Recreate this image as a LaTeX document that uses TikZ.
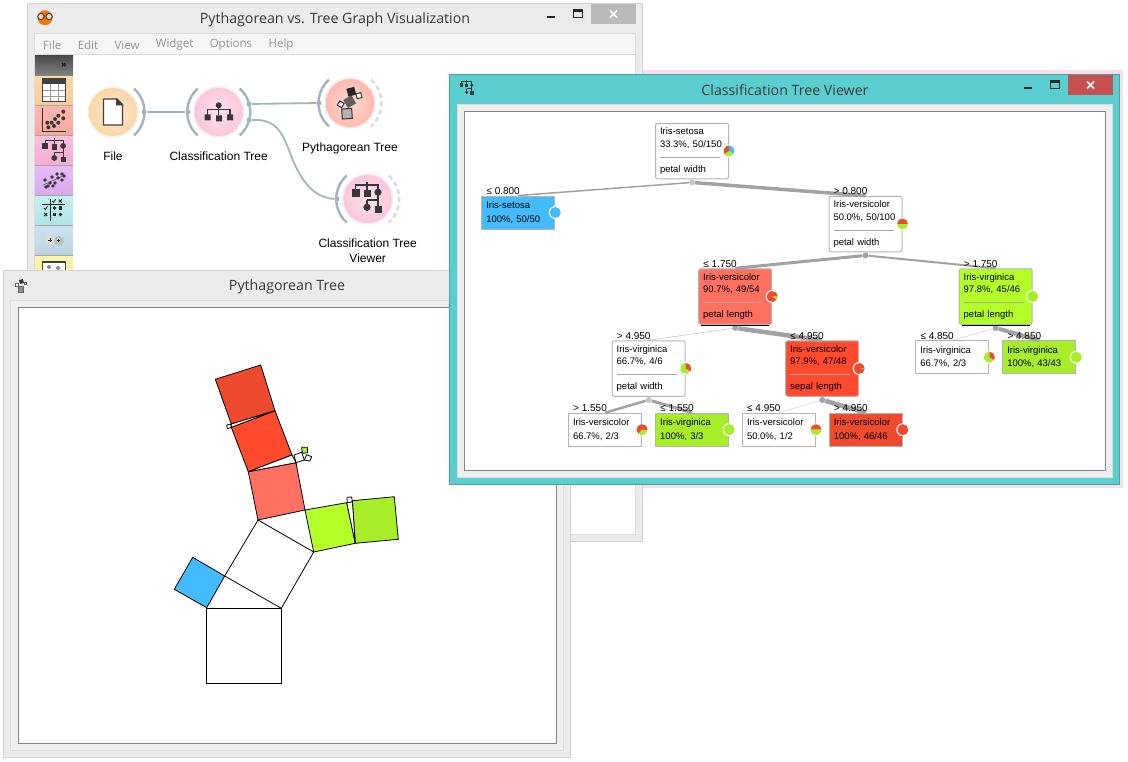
\documentclass[tikz,border=0pt]{standalone}
\usepackage{fontspec}
\setmainfont{Liberation Sans}
\newfontfamily\titlefont{Open Sans}
\usepackage{tikz}
\usetikzlibrary{positioning}

\definecolor{wingrey}{HTML}{EBEBEB}
\definecolor{winedge}{HTML}{D2D2D2}
\definecolor{panelgrey}{HTML}{EFEFEF}
\definecolor{paneledge}{HTML}{DCDCDC}
\definecolor{canvasedge}{HTML}{83838F}
\definecolor{teal}{HTML}{5BCFCF}
\definecolor{tealedge}{HTML}{45A6A6}
\definecolor{shadowpink}{HTML}{FBDDE8}
\definecolor{closered}{HTML}{C75050}
\definecolor{wire}{HTML}{A3B4BF}
\definecolor{wirefree}{HTML}{D5DCE0}
\definecolor{boxgrey}{HTML}{B4B4B4}
\definecolor{edgegrey}{HTML}{A2A2A6}
\definecolor{splitline}{HTML}{A8A8A8}
\definecolor{setosa}{HTML}{45BBFF}
\definecolor{virgin}{HTML}{A8EE28}
\definecolor{virginb}{HTML}{B4FF28}
\definecolor{versic}{HTML}{EE4A2E}
\definecolor{versicb}{HTML}{FF4A2E}
\definecolor{versicc}{HTML}{FF7060}
\definecolor{orangein}{HTML}{FEEBD3}
\definecolor{orangeout}{HTML}{FBD5A6}
\definecolor{orangehalo}{HTML}{FDEEDC}
\definecolor{pinkin}{HTML}{FDE3EC}
\definecolor{pinkout}{HTML}{F9C6DA}
\definecolor{pinkhalo}{HTML}{FCE8F0}
\definecolor{salmonin}{HTML}{FFDCD6}
\definecolor{salmonout}{HTML}{FDB9AE}
\definecolor{salmonhalo}{HTML}{FEE8E4}

\tikzset{
  winbox/.style={fill=wingrey,draw=winedge,line width=1pt},
  panelbox/.style={fill=panelgrey,draw=paneledge,line width=1pt},
  canvasbox/.style={fill=white,draw=canvasedge,line width=1pt},
  wintitle/.style={text=black!78,inner sep=0pt,font=\titlefont\fontsize{14.2}{16}\selectfont},
  menuitem/.style={text=black!42,inner sep=0pt,font=\titlefont\fontsize{11.5}{13}\selectfont},
  widget/.style={circle,minimum size=48pt,inner sep=0pt},
  widgetlabel/.style={inner sep=0pt,align=center,font=\fontsize{12}{15}\selectfont},
  port/.style={draw=wire,line width=2.4pt},
  freeport/.style={draw=wirefree,line width=2.4pt,dash pattern=on 5pt off 3.2pt},
  link/.style={draw=wire,line width=1.8pt},
  portdot/.style={circle,fill=wire,minimum size=5pt,inner sep=0pt},
  treebox/.style={draw=boxgrey,line width=1pt,rounded corners=2pt,minimum width=73pt,
    minimum height=55.5pt,text width=64pt,inner xsep=4.5pt,inner ysep=0pt,align=left,
    font=\fontsize{9.5}{12.6}\selectfont},
  leafbox/.style={treebox,rounded corners=0pt,minimum height=33pt},
  splitdot/.style={circle,fill=edgegrey,minimum size=6pt,inner sep=0pt},
  ring/.style={circle,fill=white,minimum size=13pt,inner sep=0pt},
  thr/.style={inner sep=0pt,font=\fontsize{10}{12}\selectfont},
  branch/.style={draw=edgegrey},
  sq/.style={draw=black,line width=0.8pt,line join=round},
  icon/.style={fill=black!78},
}

% one wedge of the class pie inside a ring node
\newcommand{\piepart}[4]{\fill[#4] (#1.center) -- ++(#2:5.5) arc[start angle=#2,end angle=#3,radius=5.5] -- cycle;}
\newcommand{\boxsplit}[3]{#1\\#2\\\textcolor{splitline}{\rule[2pt]{60pt}{0.8pt}}\\#3}
\newcommand{\boxleaf}[2]{#1\\[1pt]#2}
\newcommand{\winbuttons}[3]{
  \begin{scope}[shift={(#1,#2)}]
    \fill[black!85] (-44,11.7) rectangle (-36,13.7);
    \draw[black!85,line width=1pt] (-17.5,5.8) rectangle (-8.5,13);
    \fill[black!85] (-18,5.5) rectangle (-8,7.5);
    \fill[#3] (0,0) rectangle (45,20);
    \draw[white,line width=1.5pt] (19,6.5) -- (26,13.5) (26,6.5) -- (19,13.5);
  \end{scope}
}
% tree glyph, origin at the middle square; toolbox, canvas and title bar
\newcommand{\treeglyph}[3]{
  \begin{scope}[shift={(#1,#2)},scale=#3]
    \draw[draw=black!78,line width=1.1pt] (-11.3,-1) -- (-11.3,-8) -- (11,-8) -- (11,-1)
      (0,-11) -- (0,0) (0,7) -- (11,7) (11,-1) -- (11,14) (0,7) -- (0,18);
    \fill[icon] (-15.3,-4.3) rectangle ++(8,8);
    \fill[icon] (-3.5,-2.8) rectangle ++(7,7);
    \fill[icon] (11,-0.7) circle[radius=3.6];
    \fill[icon] (0,14.3) circle[radius=3.6];
    \fill[icon] (7.8,12.5) rectangle ++(7,7);
  \end{scope}
}

\begin{document}
\begin{tikzpicture}[x=1pt,y=-1pt]
  \useasboundingbox (0,0) rectangle (1128,761);
  \fill[white] (0,0) rectangle (1128,761);
  \fill[shadowpink] (642,70) rectangle (1123,488);

  % workflow window
  \draw[winbox] (27.5,3.5) rectangle (642.5,541.5);
  \fill[white] (34.5,34) rectangle (635.5,534);
  \draw[draw=paneledge] (34.5,534) -- (34.5,33.5) -- (635.5,33.5) -- (635.5,534) -- cycle;
  \fill[black!4] (35,34) rectangle (635,54);
  \draw[paneledge] (35,54.5) -- (635,54.5);
  \node[wintitle] (maintitle) at (335,20) {Pythagorean vs. Tree Graph Visualization};
  \winbuttons{591}{4}{black!27}
  \fill[orange!90!red] (45,17.7) circle[radius=7.5];
  \draw[black!75,line width=1pt,fill=white!70!orange] (40.9,16.5) circle[radius=3.2] (49.1,16.5) circle[radius=3.2];
  \node[menuitem,anchor=west] (mfile) at (43,45) {File};
  \node[menuitem,right=16pt of mfile] (medit) {Edit};
  \node[menuitem,right=16pt of medit] (mview) {View};
  \node[menuitem,right=16pt of mview] (mwidget) {Widget};
  \node[menuitem,right=16pt of mwidget] (moptions) {Options};
  \node[menuitem,right=16pt of moptions] (mhelp) {Help};

  % toolbox
  \fill[top color=black!72,bottom color=black!48] (35,55) rectangle (73,76);
  \node[inner sep=0pt,font=\bfseries\fontsize{9}{9}\selectfont] (mfold) at (64,65) {»};
  \foreach \ya/\yb/\ca/\cb in {76/105/FDD9A8/F9CB94,106/135/FFB6AE/F9A89F,136/165/FBC0DC/F5ACD0,
      166/195/E6BAF8/D9A8EE,196/225/C0F2F0/B0E6E6,226/255/CCE0EE/BCD4E4,256/275/FBF6AC/F6EE98}{
    \definecolor{ctop}{HTML}{\ca}\definecolor{cbot}{HTML}{\cb}
    \fill[top color=ctop,bottom color=cbot] (35,\ya) rectangle (73,\yb);
    \draw[black!35] (35,\yb+.5) -- (73,\yb+.5);
  }
  % table
  \draw[black!75,fill=white,line width=1.2pt] (42.5,78.5) rectangle (65.5,101.5);
  \fill[black!75] (42.5,78.5) rectangle (65.5,84);
  \foreach \x in {50,58} \draw[black!40] (\x,84) -- (\x,101);
  \foreach \y in {90,96} \draw[black!40] (43,\y) -- (65,\y);
  % scatter
  \draw[black!80,line width=1pt] (42.7,108.3) -- (42.7,131) -- (65.7,131);
  \foreach \x/\y in {63.3/111.7,58.3/115.7,63.3/118.3,55/119,51.7/122.7,58.3/122.7,48.3/127.3,54/126,47.3/122.7}
    \fill[black!78] (\x,\y) circle[radius=2];
  \treeglyph{54.3}{146.5}{0.8}
  % projection
  \draw[black!80] (43.3,185) -- (65,175);
  \foreach \x/\y in {45/180,48/186,52/177,55/183,58/178,62/174,62/180,50/183,64/176,46/187,53/186,57/174}
    \fill[black!78] (\x,\y) circle[radius=1.8];
  % confusion table
  \draw[black!85,line width=1pt] (50,199) -- (50,220.7) (42,204) -- (65,204);
  \foreach \x/\y in {60.3/201,45.7/214.5}
    \draw[black!85,line width=.8pt] (\x-1.5,\y-1.5) -- (\x+1.5,\y+1.5) (\x-1.5,\y+1.5) -- (\x+1.5,\y-1.5);
  \foreach \x/\y in {54/201,45.7/208}
    \draw[black!85,line width=.8pt] (\x-1.7,\y) -- (\x-.4,\y+1.5) -- (\x+1.8,\y-1.8);
  \foreach \x/\y in {54.5/208,60.5/214.5} \fill[black!85] (\x,\y) circle[radius=1.8];
  \foreach \x/\y in {60.5/208,54.5/214.5} \fill[black!85] (\x-1.6,\y-1.6) rectangle ++(3.2,3.2);
  % clustering, image
  \fill[black!14] (50,240) circle[radius=5.5];
  \fill[black!25] (59,241) circle[radius=5];
  \foreach \x/\y in {50/240,58.5/240.7}
    \draw[black!85,line width=.7pt] (\x-1.6,\y) -- (\x+1.6,\y) (\x,\y-1.6) -- (\x,\y+1.6);
  \draw[black!75,fill=white,line width=1.2pt] (42.5,262) rectangle (65.5,285);
  \fill[black!45] (49,267) circle[radius=2] (58,268) circle[radius=2];

  % canvas widgets
  \fill[orangehalo] (113,112) circle[radius=25.5];
  \node[widget,inner color=orangein,outer color=orangeout] (file) at (113,112) {};
  \fill[pinkhalo] (218.7,112) circle[radius=25.5];
  \node[widget,inner color=pinkin,outer color=pinkout] (ctree) at (218.7,112) {};
  \fill[salmonhalo] (350,103) circle[radius=25.5];
  \node[widget,inner color=salmonin,outer color=salmonout] (pyth) at (350,103) {};
  \fill[pinkhalo] (367.7,199) circle[radius=25.5];
  \node[widget,inner color=pinkin,outer color=pinkout] (viewer) at (367.7,199) {};
  \draw[port] ([shift={(-48:31.5)}]file.center) arc[start angle=-48,end angle=48,radius=31.5];
  \draw[port] ([shift={(132:31.5)}]ctree.center) arc[start angle=132,end angle=228,radius=31.5];
  \draw[port] ([shift={(-48:31.5)}]ctree.center) arc[start angle=-48,end angle=48,radius=31.5];
  \draw[port] ([shift={(132:31.5)}]pyth.center) arc[start angle=132,end angle=228,radius=31.5];
  \draw[freeport] ([shift={(-48:31.5)}]pyth.center) arc[start angle=-48,end angle=48,radius=31.5];
  \draw[port] ([shift={(132:31.5)}]viewer.center) arc[start angle=132,end angle=228,radius=31.5];
  \draw[freeport] ([shift={(-48:31.5)}]viewer.center) arc[start angle=-48,end angle=48,radius=31.5];
  \node[portdot] (fileout) at (144,112) {};
  \node[portdot] (ctreein) at (188,112) {};
  \node[portdot] (ctreeouta) at (249,104) {};
  \node[portdot] (ctreeoutb) at (249,120) {};
  \node[portdot] (pythin) at (319,103) {};
  \node[portdot] (viewerin) at (337,199) {};
  \draw[link] (fileout) -- (ctreein);
  \draw[link] (ctreeouta) -- (pythin);
  \draw[link] (ctreeoutb.east) .. controls (283,118) and (284,142) .. (296,167) .. controls (307,190) and (320,198) .. (viewerin.west);
  \node[widgetlabel,below=15pt of file] (filelab) {File};
  \node[widgetlabel,below=15pt of ctree] (ctreelab) {Classification Tree};
  \node[widgetlabel,below=15pt of pyth] (pythlab) {Pythagorean Tree};
  \node[widgetlabel,below=15pt of viewer] (viewerlab) {Classification Tree\\Viewer};
  % glyphs
  \begin{scope}[shift={(113,112)}]
    \draw[black!75,fill=white,line width=1.3pt,line join=round] (-9.5,-13) -- (4,-13) -- (9.5,-7.5) -- (9.5,13) -- (-9.5,13) -- cycle;
    \draw[black!75,fill=black!75,line width=.8pt] (3.5,-13) -- (3.5,-7) -- (9.5,-7) -- cycle;
  \end{scope}
  \draw[black!78,line width=1.1pt] (218.7,105) -- (218.7,115) (207.7,115) -- (207.7,109.5) -- (230,109.5) -- (230,115);
  \fill[black!78] (218.7,105.3) circle[radius=3] (204.7,114.3) rectangle ++(6,6) (216,115.3) rectangle ++(6,6) (227,114.3) rectangle ++(6,6);
  \treeglyph{367}{193}{1}
  \begin{scope}[black!80,line width=1pt]
    \draw[fill=black!30,rotate around={4:(347,113.7)}] (342,108.7) rectangle ++(10,10);
    \fill[black!62,rotate around={30:(349.7,101.7)}] (345,97) rectangle ++(9.4,9.4);
    \fill[black!85,rotate around={15:(351.3,91.7)}] (347.3,87.7) rectangle ++(8,8);
    \draw[fill=white,rotate around={-30:(340.7,104.3)}] (338.2,101.8) rectangle ++(5,5);
    \draw[fill=white,rotate around={15:(359,95.7)}] (356.5,93.2) rectangle ++(5,5);
  \end{scope}

  % pythagorean tree window
  \draw[winbox] (3.5,270.5) rectangle (570.5,757.5);
  \draw[panelbox] (10.5,300.5) rectangle (563.5,750.5);
  \draw[canvasbox] (18.5,307.5) rectangle (556.5,743.5);
  \node[wintitle] (pythtitle) at (287,287) {Pythagorean Tree};
  \fill[black!45,draw=black!60] (17.8,286) rectangle ++(5,6);
  \fill[black!80,rotate around={15:(21.5,281.5)}] (19.5,279.5) rectangle ++(4,4);
  \draw[black!60,fill=white] (15.5,283.5) rectangle ++(3,2.5) (24,282) rectangle ++(2.5,2.5);

  \draw[sq,fill=white] (206.7,608.3) rectangle (281.3,683.3);
  \draw[sq,fill=setosa] (206.7,607.7) -- (224.7,576) -- (192.7,557.3) -- (174.3,589.3) -- cycle;
  \draw[sq,fill=white] (224.7,576) -- (258,520) -- (313.7,552) -- (281.3,608.3) -- cycle;
  \draw[sq,fill=versicc] (258,520) -- (305,510) -- (296,462.7) -- (248.3,471.7) -- cycle;
  \draw[sq,fill=virginb] (305,510) -- (313.7,552) -- (355.3,543.3) -- (346.7,502.7) -- cycle;
  \draw[sq,fill=virgin] (355.3,543.3) -- (398.3,539.3) -- (394.3,496.7) -- (352.3,500.7) -- cycle;
  \draw[sq,fill=white] (346.7,502.7) -- (352.3,500.7) -- (355.3,543.3) -- cycle;
  \draw[sq,fill=white] (347,497.3) -- (351.7,497) -- (352.2,502) -- (347.3,502.7) -- cycle;
  \draw[sq,fill=versicb] (248.3,471.7) -- (292,455) -- (275,410.7) -- (231.3,427.3) -- cycle;
  \draw[sq,fill=white] (248.3,471.7) -- (296,462.7) -- (292,455) -- cycle;
  \draw[sq,fill=white] (294,455) -- (301.7,452.3) -- (304.3,460) -- (296,462.7) -- cycle;
  \draw[sq,fill=white] (304.3,460) -- (310,461) -- (311.7,456.7) -- (306.7,454.7) -- cycle;
  \draw[sq,fill=virgin] (301.7,447.3) -- (307.3,447.3) -- (307.7,452.7) -- (302.3,453.3) -- cycle;
  \draw[sq,fill=versic] (231.3,424) -- (275,410.7) -- (260.7,365) -- (215.3,379.3) -- cycle;
  \draw[sq,fill=white] (231.3,424) -- (275,410.7) -- (231.3,427.3) -- cycle;
  \draw[sq,fill=white] (226.7,425) -- (230.5,424) -- (231.3,427.3) -- (227.3,428.7) -- cycle;

  % tree viewer window
  \draw[fill=teal,draw=tealedge,line width=1pt] (449.5,74.5) rectangle (1119,484.5);
  \draw[panelbox] (457,104.5) rectangle (1112.5,477.5);
  \draw[canvasbox] (464.5,111.5) rectangle (1105,470.5);
  \node[wintitle] (viewertitle) at (785,90.5) {Classification Tree Viewer};
  \winbuttons{1068}{75}{closered}
  \treeglyph{466.7}{85.5}{0.47}

  \node[treebox] (root) at (692,151) {\boxsplit{Iris-setosa}{33.3\%, 50/150}{petal width}};
  \node[leafbox,fill=setosa] (setosaleaf) at (518.3,212.5) {\boxleaf{Iris-setosa}{100\%, 50/50}};
  \node[treebox] (verstop) at (865.5,224) {\boxsplit{Iris-versicolor}{50.0\%, 50/100}{petal width}};
  \node[treebox,fill=versicc] (versmid) at (735.2,296.5) {\boxsplit{Iris-versicolor}{90.7\%, 49/54}{petal length}};
  \node[treebox,fill=virginb] (virgmid) at (995.7,296.5) {\boxsplit{Iris-virginica}{97.8\%, 45/46}{petal length}};
  \node[treebox] (virglow) at (648.7,368.5) {\boxsplit{Iris-virginica}{66.7\%, 4/6}{petal width}};
  \node[treebox,fill=versicb] (verslow) at (822.2,368.5) {\boxsplit{Iris-versicolor}{97.9\%, 47/48}{sepal length}};
  \node[leafbox] (virgleafa) at (952.3,357.2) {\boxleaf{Iris-virginica}{66.7\%, 2/3}};
  \node[leafbox,fill=virgin] (virgleafb) at (1039.3,357.2) {\boxleaf{Iris-virginica}{100\%, 43/43}};
  \node[leafbox] (versleafa) at (605,429.7) {\boxleaf{Iris-versicolor}{66.7\%, 2/3}};
  \node[leafbox,fill=virgin] (virgleafc) at (692.2,429.7) {\boxleaf{Iris-virginica}{100\%, 3/3}};
  \node[leafbox] (versleafb) at (779,429.7) {\boxleaf{Iris-versicolor}{50.0\%, 1/2}};
  \node[leafbox,fill=versic] (versleafc) at (865.8,429.7) {\boxleaf{Iris-versicolor}{100\%, 46/46}};

  \node[splitdot,fill=black!22,below=0pt of root] (rootdot) {};
  \node[splitdot,below=0pt of verstop] (verstopdot) {};
  \node[splitdot,below=0pt of versmid] (versmiddot) {};
  \node[splitdot,below=0pt of virgmid] (virgmiddot) {};
  \node[splitdot,fill=black!22,below=0pt of virglow] (virglowdot) {};
  \node[splitdot,below=0pt of verslow] (verslowdot) {};
  \draw[black] ([xshift=3pt]versmid.south west) -- ([xshift=-3pt]versmid.south east);
  \draw[black] ([xshift=3pt]virgmid.south west) -- ([xshift=-3pt]virgmid.south east);

  \draw[branch,line width=1.5pt] (rootdot) -- (setosaleaf.north);
  \draw[branch,line width=3.5pt] (rootdot) -- (verstop.north);
  \draw[branch,line width=3pt] (verstopdot) -- (versmid.north);
  \draw[branch,line width=2pt] (verstopdot) -- (virgmid.north);
  \draw[branch,black!22,line width=.6pt] (versmiddot) -- (virglow.north);
  \draw[branch,line width=4.5pt] (versmiddot) -- (verslow.north);
  \draw[branch,black!15,line width=.6pt] (virgmiddot) -- (virgleafa.north);
  \draw[branch,line width=4pt] (virgmiddot) -- (virgleafb.north);
  \draw[branch,line width=2.5pt] (virglowdot) -- (versleafa.north);
  \draw[branch,line width=3pt] (virglowdot) -- (virgleafc.north);
  \draw[branch,black!15,line width=.6pt] (verslowdot) -- (versleafb.north);
  \draw[branch,line width=4.5pt] (verslowdot) -- (versleafc.north);

  \node[thr,above right=0.5pt and 5pt of setosaleaf.north west] (thra) {≤ 0.800};
  \node[thr,above right=0.5pt and 5pt of verstop.north west] (thrb) {> 0.800};
  \node[thr,above right=0.5pt and 5pt of versmid.north west] (thrc) {≤ 1.750};
  \node[thr,above right=0.5pt and 5pt of virgmid.north west] (thrd) {> 1.750};
  \node[thr,above right=0.5pt and 5pt of virglow.north west] (thre) {> 4.950};
  \node[thr,above right=0.5pt and 5pt of verslow.north west] (thrf) {≤ 4.950};
  \node[thr,above right=0.5pt and 5pt of virgleafa.north west] (thrg) {≤ 4.850};
  \node[thr,above right=0.5pt and 5pt of virgleafb.north west] (thrh) {> 4.850};
  \node[thr,above right=0.5pt and 5pt of versleafa.north west] (thri) {> 1.550};
  \node[thr,above right=0.5pt and 5pt of virgleafc.north west] (thrj) {≤ 1.550};
  \node[thr,above right=0.5pt and 5pt of versleafb.north west] (thrk) {≤ 4.950};
  \node[thr,above right=0.5pt and 5pt of versleafc.north west] (thrl) {> 4.950};

  % class pies
  \node[ring] (rootpie) at (root.east) {};
  \piepart{rootpie}{-90}{30}{setosa}\piepart{rootpie}{30}{150}{virgin}\piepart{rootpie}{150}{270}{versic}
  \node[ring] (setosapie) at (setosaleaf.east) {};
  \piepart{setosapie}{0}{360}{setosa}
  \node[ring] (verstoppie) at (verstop.east) {};
  \piepart{verstoppie}{180}{360}{versic}\piepart{verstoppie}{0}{180}{virgin}
  \node[ring] (versmidpie) at (versmid.east) {};
  \piepart{versmidpie}{33}{360}{versic}\piepart{versmidpie}{0}{33}{virgin}
  \node[ring] (virgmidpie) at (virgmid.east) {};
  \piepart{virgmidpie}{0}{360}{virgin}
  \node[ring] (virglowpie) at (virglow.east) {};
  \piepart{virglowpie}{30}{270}{virgin}\piepart{virglowpie}{-90}{30}{versic}
  \node[ring] (verslowpie) at (verslow.east) {};
  \piepart{verslowpie}{8}{360}{versic}\piepart{verslowpie}{0}{8}{virgin}
  \node[ring] (virgapie) at (virgleafa.east) {};
  \piepart{virgapie}{30}{270}{virgin}\piepart{virgapie}{-90}{30}{versic}
  \node[ring] (virgbpie) at (virgleafb.east) {};
  \piepart{virgbpie}{0}{360}{virgin}
  \node[ring] (versapie) at (versleafa.east) {};
  \piepart{versapie}{130}{370}{versic}\piepart{versapie}{10}{130}{virgin}
  \node[ring] (virgcpie) at (virgleafc.east) {};
  \piepart{virgcpie}{0}{360}{virgin}
  \node[ring] (versbpie) at (versleafb.east) {};
  \piepart{versbpie}{180}{360}{versic}\piepart{versbpie}{0}{180}{virgin}
  \node[ring] (verscpie) at (versleafc.east) {};
  \piepart{verscpie}{0}{360}{versic}
\end{tikzpicture}
\end{document}
